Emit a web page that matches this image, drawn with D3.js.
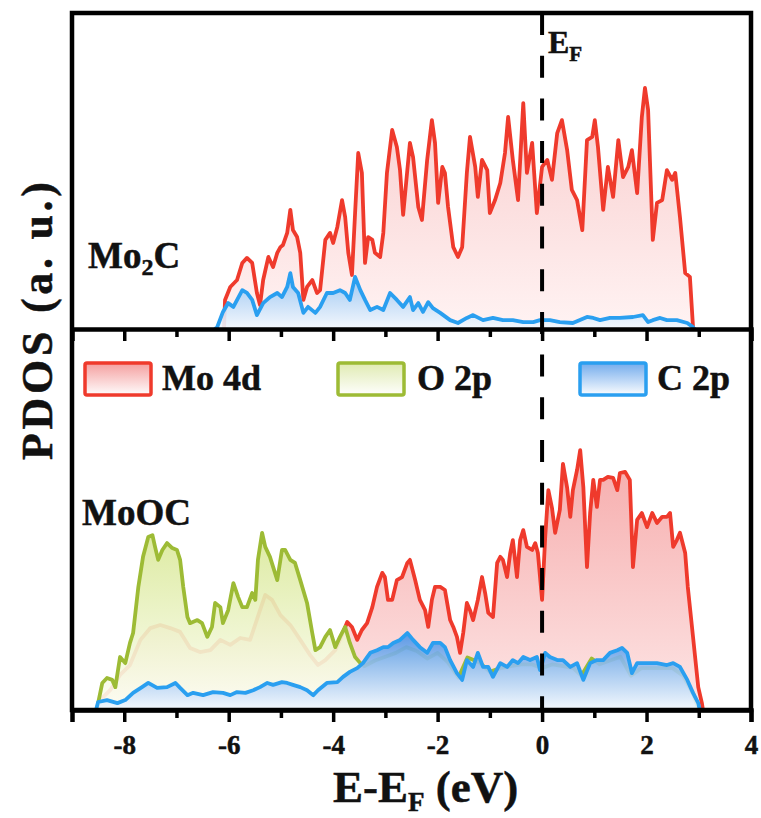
<!DOCTYPE html>
<html>
<head>
<meta charset="utf-8">
<script src="https://cdn.jsdelivr.net/npm/d3@7/dist/d3.min.js"></script>
<style>
  html, body { margin: 0; padding: 0; background: #fff; }
  svg { display: block; }
  text { font-family: "Liberation Serif", "Times New Roman", serif; font-weight: bold; fill: #111; stroke: #111; stroke-width: 0.5px; }
</style>
</head>
<body>
<svg id="chart" width="761" height="818"></svg>
<script>
// Projected density of states, energies in eV relative to E_F, intensities in arbitrary units (0-100 per panel)

// Mo2C: Mo 4d
const mo2cMo4d = [
  [-6.09,0],[-6.07,9.2],[-5.97,13.3],[-5.84,15.5],[-5.74,20.9],[-5.65,22.5],[-5.55,20.9],[-5.46,11.4],[-5.40,7.6],
  [-5.34,15.5],[-5.24,22.8],[-5.15,19.6],[-5.07,24.1],[-5.01,25.9],[-4.96,26.6],[-4.88,30.4],[-4.82,37.7],[-4.77,31.3],
  [-4.69,29.1],[-4.63,24.1],[-4.57,9.2],[-4.50,13.3],[-4.40,15.5],[-4.31,11.4],[-4.25,12.3],[-4.15,28.2],[-4.06,30.4],
  [-4.00,27.2],[-3.92,32.3],[-3.83,40.8],[-3.77,35.4],[-3.71,24.1],[-3.64,17.1],[-3.58,36.7],[-3.52,55.7],[-3.45,49.4],
  [-3.39,20.9],[-3.33,29.1],[-3.25,28.2],[-3.20,24.1],[-3.10,22.8],[-3.04,30.4],[-2.97,49.4],[-2.87,63.0],[-2.78,57.6],
  [-2.72,50.3],[-2.66,36.1],[-2.58,50.3],[-2.53,58.9],[-2.47,54.4],[-2.37,38.6],[-2.30,34.5],[-2.20,53.5],[-2.11,66.1],
  [-2.05,58.9],[-1.99,39.9],[-1.91,51.3],[-1.86,49.4],[-1.80,38.6],[-1.70,25.9],[-1.61,22.8],[-1.53,25.9],[-1.44,49.4],
  [-1.38,60.8],[-1.28,51.3],[-1.23,41.8],[-1.15,53.5],[-1.05,50.3],[-1.00,36.7],[-0.90,40.8],[-0.80,46.2],[-0.71,55.7],
  [-0.65,67.1],[-0.56,53.5],[-0.46,40.8],[-0.36,71.5],[-0.29,49.4],[-0.19,58.9],[-0.10,36.7],[0.00,51.3],[0.10,53.5],
  [0.19,47.2],[0.29,62.0],[0.38,66.1],[0.48,56.6],[0.57,44.0],[0.67,40.8],[0.77,31.3],[0.86,59.8],[0.96,60.8],[1.01,66.1],
  [1.07,57.6],[1.17,37.7],[1.26,51.3],[1.36,41.8],[1.46,59.8],[1.55,48.1],[1.65,51.3],[1.72,56.6],[1.82,43.0],[1.91,67.1],
  [1.97,76.3],[2.03,69.3],[2.12,28.2],[2.20,39.9],[2.30,40.8],[2.39,50.3],[2.49,47.2],[2.55,49.4],[2.64,35.4],[2.74,17.7],
  [2.83,16.5],[2.89,0.6],[2.91,0]
];

// Mo2C: C 2p
const mo2cC2p = [
  [-6.26,0],[-6.22,0.6],[-6.11,5.4],[-6.01,8.2],[-5.91,7.0],[-5.74,12.3],[-5.65,11.4],[-5.55,9.2],[-5.46,4.4],[-5.34,8.2],
  [-5.21,10.1],[-5.07,11.4],[-4.98,10.1],[-4.88,13.3],[-4.82,17.7],[-4.77,13.3],[-4.67,11.4],[-4.57,5.1],[-4.48,7.0],
  [-4.34,5.1],[-4.25,7.0],[-4.12,11.4],[-4.00,11.4],[-3.87,12.3],[-3.77,11.4],[-3.68,9.2],[-3.58,16.5],[-3.48,12.3],
  [-3.39,9.2],[-3.29,6.0],[-3.16,7.0],[-3.04,6.0],[-2.91,11.4],[-2.78,9.2],[-2.66,7.0],[-2.53,10.1],[-2.47,6.0],[-2.37,8.2],
  [-2.28,5.4],[-2.18,8.5],[-2.09,6.6],[-1.95,5.1],[-1.76,2.8],[-1.61,1.9],[-1.44,3.5],[-1.32,4.4],[-1.13,2.8],[-0.94,3.5],
  [-0.75,2.8],[-0.56,2.8],[-0.36,2.2],[-0.17,2.2],[-0.04,2.8],[0.15,2.8],[0.34,2.2],[0.59,1.9],[0.86,3.8],[0.98,3.5],
  [1.11,2.8],[1.30,3.5],[1.49,3.5],[1.74,3.8],[1.93,4.4],[2.03,2.2],[2.12,2.8],[2.26,3.5],[2.39,2.8],[2.58,2.8],[2.78,1.9],
  [2.89,0.6],[2.91,0]
];

// MoOC: Mo 4d
const moocMo4d = [
  [-8.50,0],[-8.46,2.6],[-8.27,5.2],[-8.08,9.2],[-7.89,11.8],[-7.69,18.4],[-7.50,21.5],[-7.31,22.3],[-7.12,21.5],[-6.93,20.5],
  [-6.74,16.3],[-6.55,15.2],[-6.35,15.7],[-6.16,18.4],[-5.97,17.1],[-5.78,18.9],[-5.59,18.4],[-5.40,26.2],[-5.30,30.2],
  [-5.17,28.9],[-5.01,24.9],[-4.82,22.3],[-4.63,18.4],[-4.44,14.4],[-4.29,11.8],[-4.15,13.1],[-3.96,15.7],[-3.87,18.4],
  [-3.73,23.1],[-3.64,21.8],[-3.54,18.4],[-3.45,21.0],[-3.35,22.8],[-3.25,27.0],[-3.16,32.3],[-3.06,36.0],[-3.01,34.9],
  [-2.95,28.9],[-2.87,28.9],[-2.78,34.1],[-2.68,34.9],[-2.58,38.6],[-2.53,39.4],[-2.43,34.1],[-2.34,28.9],[-2.24,26.2],
  [-2.18,21.8],[-2.11,28.9],[-2.05,32.3],[-1.95,32.3],[-1.86,31.5],[-1.76,23.6],[-1.70,21.8],[-1.63,19.2],[-1.57,15.0],
  [-1.51,20.2],[-1.44,28.1],[-1.38,26.2],[-1.32,23.6],[-1.23,28.9],[-1.15,34.9],[-1.09,30.7],[-1.03,25.5],[-0.94,24.4],
  [-0.86,38.6],[-0.80,40.2],[-0.75,39.4],[-0.67,34.9],[-0.61,41.2],[-0.56,44.6],[-0.48,34.9],[-0.42,44.6],[-0.36,47.2],
  [-0.29,42.8],[-0.19,42.0],[-0.13,43.8],[-0.08,41.2],[0.00,28.9],[0.06,45.4],[0.12,57.7],[0.19,53.0],[0.25,46.5],
  [0.34,52.5],[0.40,64.6],[0.48,58.3],[0.54,50.7],[0.59,57.7],[0.67,63.0],[0.73,68.2],[0.79,58.5],[0.86,37.5],[0.92,51.7],
  [0.98,60.4],[1.05,53.3],[1.11,60.4],[1.17,60.4],[1.26,61.2],[1.36,60.9],[1.44,57.7],[1.49,62.2],[1.59,62.5],[1.68,60.4],
  [1.74,37.5],[1.82,49.9],[1.91,51.7],[2.01,48.0],[2.11,51.7],[2.20,49.1],[2.30,50.7],[2.39,50.7],[2.45,51.7],[2.51,42.8],
  [2.58,44.6],[2.64,46.5],[2.74,41.2],[2.79,32.3],[2.89,19.2],[2.99,6.0],[3.06,1.8],[3.08,0]
];

// MoOC: O 2p
const moocO2p = [
  [-8.52,0],[-8.50,1.8],[-8.42,7.1],[-8.33,8.4],[-8.23,7.9],[-8.17,6.0],[-8.08,13.9],[-7.98,12.3],[-7.89,17.6],[-7.83,20.2],
  [-7.73,32.3],[-7.64,40.2],[-7.54,45.4],[-7.46,45.9],[-7.41,42.8],[-7.35,39.4],[-7.27,42.0],[-7.18,43.8],[-7.08,42.5],
  [-6.99,42.0],[-6.93,39.4],[-6.87,32.3],[-6.79,24.4],[-6.74,22.8],[-6.60,23.6],[-6.51,22.8],[-6.41,19.2],[-6.32,21.8],
  [-6.26,28.1],[-6.16,27.0],[-6.11,22.8],[-6.01,26.2],[-5.91,33.3],[-5.82,29.7],[-5.74,27.0],[-5.65,27.0],[-5.55,30.7],
  [-5.49,28.9],[-5.44,39.4],[-5.36,46.5],[-5.30,42.8],[-5.21,40.2],[-5.07,34.1],[-4.98,42.0],[-4.92,42.0],[-4.82,39.4],
  [-4.73,38.6],[-4.63,34.1],[-4.50,28.1],[-4.40,20.2],[-4.34,15.7],[-4.25,16.5],[-4.15,19.2],[-4.06,21.0],[-3.96,16.5],
  [-3.87,19.2],[-3.77,21.8],[-3.68,17.6],[-3.58,13.9],[-3.48,12.3],[-3.40,11.5],[-3.20,13.0],[-3.00,14.0],[-2.80,15.0],
  [-2.60,16.5],[-2.40,15.5],[-2.20,13.5],[-2.00,15.0],[-1.80,12.5],[-1.60,8.5],[-1.43,13.8],[-1.20,12.5],[-1.00,10.0],
  [-0.80,11.0],[-0.60,11.5],[-0.40,12.0],[-0.20,12.0],[0.00,11.0],[0.20,12.0],[0.40,11.5],[0.60,11.0],[0.75,9.0],
  [0.95,13.5],[1.10,12.0],[1.30,13.0],[1.50,14.0],[1.70,9.0],[1.90,11.0],[2.20,11.0],[2.50,11.0],[2.70,9.0],[2.90,4.0],
  [3.00,0]
];

// MoOC: C 2p
const moocC2p = [
  [-8.54,0],[-8.50,2.1],[-8.33,2.6],[-8.13,1.8],[-7.98,2.6],[-7.83,4.5],[-7.66,6.0],[-7.54,7.1],[-7.37,5.8],[-7.18,6.0],
  [-7.02,7.1],[-6.93,5.8],[-6.79,3.9],[-6.68,4.5],[-6.49,3.9],[-6.30,4.7],[-6.11,4.5],[-5.97,3.9],[-5.84,4.7],[-5.68,4.5],
  [-5.53,5.2],[-5.40,6.0],[-5.26,7.1],[-5.15,6.6],[-4.98,7.3],[-4.88,7.1],[-4.77,6.6],[-4.63,6.0],[-4.50,5.2],[-4.38,3.9],
  [-4.29,5.2],[-4.12,7.1],[-3.92,7.3],[-3.81,8.7],[-3.68,10.0],[-3.54,11.0],[-3.43,12.3],[-3.29,15.0],[-3.16,15.7],
  [-3.04,16.5],[-2.95,16.5],[-2.85,17.6],[-2.72,18.4],[-2.58,20.2],[-2.47,18.4],[-2.34,16.5],[-2.20,15.0],[-2.09,17.6],
  [-1.95,17.6],[-1.86,16.5],[-1.76,13.1],[-1.63,9.7],[-1.53,7.9],[-1.44,13.1],[-1.32,11.3],[-1.23,15.0],[-1.13,11.3],
  [-1.03,11.3],[-0.94,8.7],[-0.80,12.3],[-0.67,11.3],[-0.56,13.1],[-0.46,12.3],[-0.36,13.9],[-0.23,13.1],[-0.10,13.9],
  [-0.04,10.5],[0.06,15.0],[0.15,13.9],[0.29,13.1],[0.40,13.1],[0.54,11.3],[0.67,12.3],[0.79,7.9],[0.92,12.3],[1.05,13.1],
  [1.17,13.1],[1.30,15.0],[1.44,15.7],[1.53,16.3],[1.63,15.0],[1.72,9.7],[1.82,12.3],[2.01,12.3],[2.20,12.3],[2.39,11.8],
  [2.51,12.3],[2.64,11.3],[2.78,7.9],[2.89,4.5],[2.99,1.8],[3.02,0]
];

const xTicks = [-8, -6, -4, -2, 0, 2, 4];
const xMinorTicks = [-7, -5, -3, -1, 1, 3];
const legendItems = ["Mo 4d", "O 2p", "C 2p"];

const colors = { mo: "#ef3a2c", o: "#9dbb35", c: "#2a9ff0" };

const svg = d3.select("#chart");
const plotLeft = 72, plotRight = 751, plotTop = 13, plotMid = 329, plotBottom = 710;

const x = d3.scaleLinear().domain([-9, 4]).range([plotLeft, plotRight]);
const yTop = d3.scaleLinear().domain([0, 100]).range([plotMid, plotTop]);
const yBot = d3.scaleLinear().domain([0, 100]).range([plotBottom, plotMid]);

const defs = svg.append("defs");
defs.append("clipPath").attr("id", "clipTop")
  .append("rect").attr("x", plotLeft).attr("y", plotTop).attr("width", plotRight - plotLeft).attr("height", plotMid - plotTop);
defs.append("clipPath").attr("id", "clipBot")
  .append("rect").attr("x", plotLeft).attr("y", plotMid).attr("width", plotRight - plotLeft).attr("height", plotBottom - plotMid);

function gradient(id, y1, y2, c1, c2) {
  const g = defs.append("linearGradient").attr("id", id)
    .attr("gradientUnits", "userSpaceOnUse")
    .attr("x1", 0).attr("x2", 0).attr("y1", y1).attr("y2", y2);
  g.append("stop").attr("offset", 0).attr("stop-color", c1);
  g.append("stop").attr("offset", 1).attr("stop-color", c2);
}

function maxOf(d) { return d3.max(d, p => p[1]); }

gradient("gTopMo", yTop(maxOf(mo2cMo4d)), plotMid, "#f9cccc", "#fff3f3");
gradient("gTopC", yTop(maxOf(mo2cC2p)), plotMid, "#8cc0f2", "#f3f8fe");
gradient("gBotMo", yBot(maxOf(moocMo4d)), plotBottom, "#f6abab", "#fde6e6");
gradient("gBotO", yBot(maxOf(moocO2p)), plotBottom, "#d9e897", "#fdfef5");
gradient("gBotC", yBot(maxOf(moocC2p)), plotBottom, "#4a92e6", "#f3f8fe");

function drawSeries(g, data, y, fillId, color, fillOpacity) {
  const area = d3.area().x(d => x(d[0])).y0(y(0)).y1(d => y(d[1]));
  const line = d3.line().x(d => x(d[0])).y(d => y(d[1]));
  g.append("path").datum(data).attr("d", area)
    .attr("fill", `url(#${fillId})`).attr("fill-opacity", fillOpacity);
  g.append("path").datum(data).attr("d", line)
    .attr("fill", "none").attr("stroke", color).attr("stroke-width", 3.8)
    .attr("stroke-linejoin", "round").attr("stroke-linecap", "round");
}

const gTop = svg.append("g").attr("clip-path", "url(#clipTop)");
drawSeries(gTop, mo2cMo4d, yTop, "gTopMo", colors.mo, 1);
drawSeries(gTop, mo2cC2p, yTop, "gTopC", colors.c, 0.9);

const gBot = svg.append("g").attr("clip-path", "url(#clipBot)");
drawSeries(gBot, moocMo4d, yBot, "gBotMo", colors.mo, 1);
drawSeries(gBot, moocO2p, yBot, "gBotO", colors.o, 0.9);
drawSeries(gBot, moocC2p, yBot, "gBotC", colors.c, 0.9);

// Fermi level
svg.append("line")
  .attr("x1", x(0)).attr("x2", x(0)).attr("y1", plotTop).attr("y2", plotBottom)
  .attr("stroke", "#000").attr("stroke-width", 4).attr("stroke-dasharray", "22 20.7");

// Frame around both panels
const frameW = 4.5;
svg.append("rect").attr("x", plotLeft).attr("y", plotTop).attr("width", plotRight - plotLeft).attr("height", plotBottom - plotTop)
  .attr("fill", "none").attr("stroke", "#000").attr("stroke-width", frameW);

// x axes (major + minor ticks) under each panel
function xAxisAt(yPos) {
  svg.append("g").attr("transform", `translate(0,${yPos})`)
    .call(d3.axisBottom(x).tickValues(xMinorTicks).tickSize(8).tickFormat(""))
    .call(g => g.select(".domain").remove())
    .call(g => g.selectAll("line").attr("stroke", "#000").attr("stroke-width", 3.5));
  return svg.append("g").attr("transform", `translate(0,${yPos})`)
    .call(d3.axisBottom(x).tickValues(xTicks).tickSize(12).tickPadding(14).tickFormat(d => String(d)))
    .call(g => g.select(".domain").attr("stroke", "#000").attr("stroke-width", frameW))
    .call(g => g.selectAll("line").attr("stroke", "#000").attr("stroke-width", 3.5));
}
const topAxis = xAxisAt(plotMid);
topAxis.selectAll("text").remove();
const botAxis = xAxisAt(plotBottom);
botAxis.selectAll("text")
  .attr("font-size", 27).attr("font-family", "Liberation Serif, serif").attr("font-weight", "bold")
  .attr("fill", "#111").attr("y", 0).attr("dy", 0).attr("transform", "translate(0,44)");

// Axis titles
const xt = svg.append("text").attr("x", 333).attr("y", 802).attr("font-size", 45);
xt.append("tspan").text("E-E");
xt.append("tspan").text("F").attr("font-size", 27).attr("dy", 9);
xt.append("tspan").text(" (eV)").attr("dy", -9);

svg.append("text")
  .attr("transform", "translate(52,460) rotate(-90)")
  .attr("font-size", 44)
  .attr("textLength", 278).attr("lengthAdjust", "spacing")
  .text("PDOS (a. u.)");

// Panel labels
const l1 = svg.append("text").attr("x", 88).attr("y", 268).attr("font-size", 37);
l1.append("tspan").text("Mo");
l1.append("tspan").text("2").attr("font-size", 24).attr("dy", 7);
l1.append("tspan").text("C").attr("dy", -7);

svg.append("text").attr("x", 82).attr("y", 525).attr("font-size", 37).text("MoOC");

const ef = svg.append("text").attr("x", 548).attr("y", 53).attr("font-size", 32);
ef.append("tspan").text("E");
ef.append("tspan").text("F").attr("font-size", 21).attr("dy", 8);

// Legend
const legendGrad = [["lgMo", "#f49c9c"], ["lgO", "#dfeab0"], ["lgC", "#6fa9ec"]];
legendGrad.forEach(([id, c]) => gradient(id, 362, 396, c, "#ffffff"));
const legendX = [85, 338, 580];
const legendText = [162, 417, 657];
const legendColor = [colors.mo, colors.o, colors.c];
legendItems.forEach((name, i) => {
  svg.append("rect").attr("x", legendX[i]).attr("y", 363).attr("width", 66).attr("height", 32)
    .attr("rx", 2).attr("fill", `url(#${legendGrad[i][0]})`)
    .attr("stroke", legendColor[i]).attr("stroke-width", 3.5);
  svg.append("text").attr("x", legendText[i]).attr("y", 390).attr("font-size", 36).text(name);
});
</script>
</body>
</html>
